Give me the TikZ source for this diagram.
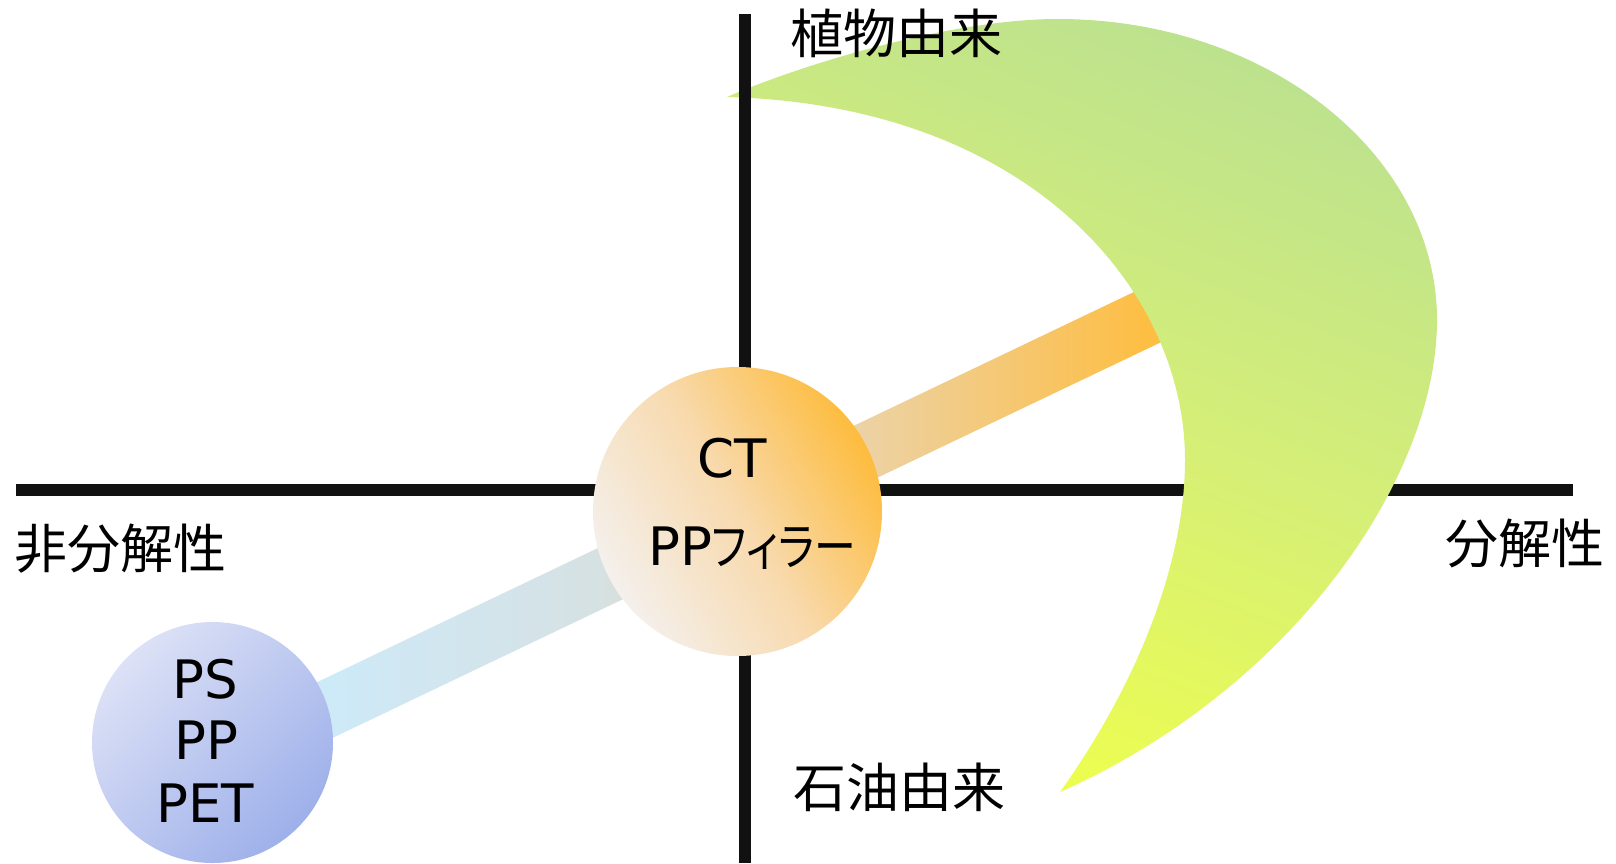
\documentclass[tikz,border=0pt]{standalone}
\usepackage{fontspec}
\setmainfont{Noto Sans CJK JP}
\newfontfamily\latinf{DejaVu Sans}
\newfontfamily\jpp[RawFeature=+palt, FakeStretch=0.82]{Noto Sans CJK JP}
\usetikzlibrary{calc}
\definecolor{axisc}{HTML}{111111}
\definecolor{barA}{HTML}{CDEAF9}
\definecolor{barB}{HTML}{D6E1E3}
\definecolor{barC}{HTML}{EDD1A0}
\definecolor{barD}{HTML}{FDBE44}
\definecolor{crA}{HTML}{BDE28E}
\definecolor{crB}{HTML}{D6EF76}
\definecolor{crC}{HTML}{EEFE4E}
\definecolor{bigA}{HTML}{FDBC3E}
\definecolor{bigB}{HTML}{F8DAAE}
\definecolor{bigC}{HTML}{F4F0EC}
\definecolor{smA}{HTML}{DCE1F6}
\definecolor{smB}{HTML}{9EB0EA}
\pgfdeclarehorizontalshading{barshade}{100bp}{color(0bp)=(barA); color(28.5bp)=(barA); color(43bp)=(barB); color(57.5bp)=(barC); color(71.5bp)=(barD); color(100bp)=(barD)}
\tikzset{
  axisline/.style={draw=axisc, line width=12pt},
  lbl/.style={inner sep=0pt, font=\fontsize{53}{62}\selectfont, text=black},
  ltn/.style={inner sep=0pt, font=\latinf\fontsize{53}{62}\selectfont, text=black},
  bigcirc/.style={circle, inner sep=0pt, minimum size=289pt, top color=bigA, bottom color=bigC, middle color=bigB, shading angle=-60},
  smcirc/.style={circle, inner sep=0pt, minimum size=241pt, top color=smA, bottom color=smB, shading angle=45},
}
\begin{document}
\begin{tikzpicture}[x=1pt,y=-1pt]
\useasboundingbox (0,0) rectangle (1616,863);
% axes
\coordinate (hL) at (16,489.5);
\coordinate (hR) at (1573,489.5);
\coordinate (vT) at (745,14);
\coordinate (vB) at (745,863);
\draw[axisline] (hL) -- (hR);
% bar
\coordinate (barL) at (260,741);
\coordinate (barR) at (1200,292);
\shade[shading=barshade]
  ($(barL)!28.5pt!90:(barR)$) -- ($(barR)!28.5pt!-90:(barL)$) --
  ($(barR)!28.5pt!90:(barL)$) -- ($(barL)!28.5pt!-90:(barR)$) -- cycle;
% crescent
\coordinate (cTop) at (727,97);
\coordinate (cBot) at (1060,792);
\shade[top color=crA, bottom color=crC, middle color=crB, shading angle=-22]
  (cTop) .. controls (800,65) and (950,19) .. (1058,19)
  .. controls (1267,19) and (1437,154) .. (1437,320)
  .. controls (1437,480) and (1290,690) .. (cBot)
  .. controls (1140,680) and (1185,560) .. (1185,460)
  .. controls (1185,290) and (1030,105) .. (cTop) -- cycle;
\draw[axisline] (vT) -- (vB);
% circles
\node[bigcirc] (ct) at (737.5,511.5) {};
\node[smcirc] (ps) at (212.5,742.5) {};
% labels
\node[ltn, anchor=base] (tCT) at (732,477) {CT};
\node[anchor=base, inner sep=0pt] (tPPF) at (752,565) {\latinf\fontsize{53}{62}\selectfont PP\jpp\fontsize{51}{62}\selectfont フィラー};
\node[ltn, anchor=base] (tPS) at (205,698) {PS};
\node[ltn, anchor=base] (tPP) at (206,759) {PP};
\node[ltn, anchor=base] (tPET) at (205,822) {PET};
\node[lbl, anchor=base] (tPlant) at (896,53) {植物由来};
\node[lbl, anchor=base] (tOil) at (899,807) {石油由来};
\node[lbl, anchor=base] (tNon) at (120.5,568) {非分解性};
\node[lbl, anchor=base] (tDeg) at (1525,563) {分解性};
\end{tikzpicture}
\end{document}
